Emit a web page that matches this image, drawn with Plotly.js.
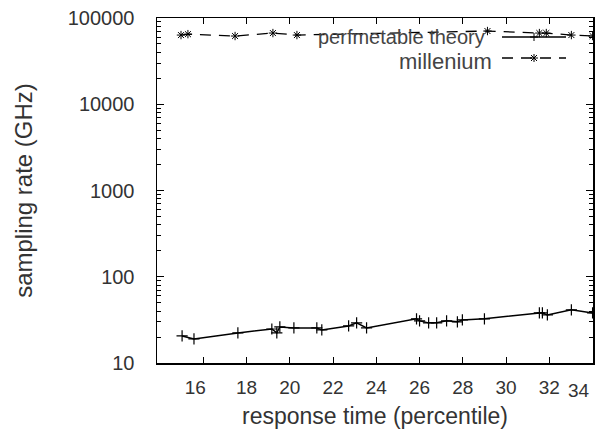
<!DOCTYPE html>
<html>
<head>
<meta charset="utf-8">
<script src="https://cdn.plot.ly/plotly-3.0.1.min.js"></script>
<style>html,body{margin:0;padding:0;background:#fff;}#chart{width:600px;height:435px;}</style>
</head>
<body>
<div id="chart"></div>
<script>
// Data
const theoryX = [15.02, 15.57, 17.6, 19.17, 19.4, 19.54, 20.19, 21.25, 21.48, 22.72, 23.09, 23.55, 25.86, 26.0, 26.42, 26.79, 27.25, 27.75, 27.98, 29.0, 31.54, 31.68, 31.91, 33.02, 34.0];
const theoryY = [20.6, 19.0, 22.3, 24.8, 22.3, 26.2, 25.5, 25.5, 24.2, 26.9, 29.2, 25.5, 32.5, 30.8, 29.2, 29.2, 30.8, 30.0, 31.6, 32.5, 38.1, 38.1, 36.1, 41.3, 38.1];
const milleniumX = [14.97, 15.29, 17.47, 19.22, 20.33, 29.14, 31.54, 31.86, 33.02, 34.0];
const milleniumY = [63400, 65000, 61800, 66900, 63400, 70600, 66900, 66900, 63400, 61800];
const xTicks = [16, 18, 20, 22, 24, 26, 28, 30, 32, 34];
const yTicks = [10, 100, 1000, 10000, 100000];
const seriesNames = ["perfmetable theory", "millenium"];

// plot area in pixels (for legend placement)
const L = 157, R = 593, T = 18, B = 363;
const px = x => (x - L) / (R - L);
const py = y => (B - y) / (B - T);

// the edge labels sit slightly left of their ticks in the reference
const NB = '\u00a0';
const lastTick = xTicks[xTicks.length - 1];
const xTickText = xTicks.map((v, i) => {
  if (i === 0) return String(v) + NB.repeat(3);
  if (i === xTicks.length - 1) return '';   // drawn as a right-aligned label below
  return String(v);
});

const traces = [
  {x: theoryX, y: theoryY, name: seriesNames[0], type: 'scatter', mode: 'lines+markers',
   line: {color: '#000', width: 1.5},
   marker: {symbol: 'cross-thin-open', size: 8, color: '#000', line: {color: '#000', width: 1.2}},
   showlegend: false, cliponaxis: true},
  {x: milleniumX, y: milleniumY, name: seriesNames[1], type: 'scatter', mode: 'lines+markers',
   line: {color: '#000', width: 1.3, dash: '11px,8px'},
   marker: {symbol: 'asterisk-open', size: 7, color: '#000', line: {color: '#000', width: 1}},
   showlegend: false, cliponaxis: true}
];

// legend drawn gnuplot-style: text right-aligned, sample on the right
const shapes = [];
const rows = [{y: 37, dash: 'solid', mk: 'plus'}, {y: 58, dash: '11px,8px', mk: 'star'}];
rows.forEach(r => {
  shapes.push({type: 'line', xref: 'paper', yref: 'paper', x0: px(502), x1: px(566), y0: py(r.y), y1: py(r.y),
    line: {color: '#000', width: 1.3, dash: r.dash}});
  const cx = 534, cy = r.y, s = 4;
  const segs = [[cx - s, cy, cx + s, cy], [cx, cy - s, cx, cy + s]];
  if (r.mk === 'star') { segs.push([cx - 3, cy - 3, cx + 3, cy + 3]); segs.push([cx - 3, cy + 3, cx + 3, cy - 3]); }
  segs.forEach(g => shapes.push({type: 'line', xref: 'paper', yref: 'paper',
    x0: px(g[0]), y0: py(g[1]), x1: px(g[2]), y1: py(g[3]), line: {color: '#000', width: 1}}));
});

const annotations = [
  {text: seriesNames[0], xref: 'paper', yref: 'paper', x: px(487), y: py(37), xanchor: 'right', yanchor: 'middle',
   showarrow: false, font: {family: 'Liberation Sans, Arial, sans-serif', size: 20, color: '#444'}},
  {text: seriesNames[1], xref: 'paper', yref: 'paper', x: px(494), y: py(61), xanchor: 'right', yanchor: 'middle',
   showarrow: false, font: {family: 'Liberation Sans, Arial, sans-serif', size: 22, color: '#444'}},
  {text: String(lastTick), xref: 'x', yref: 'paper', x: lastTick, y: 0, xanchor: 'right', yanchor: 'top',
   xshift: -1, yshift: -15, showarrow: false, font: {family: 'Liberation Sans, Arial, sans-serif', size: 19, color: '#333'}}
];

const layout = {
  width: 600, height: 435,
  margin: {l: L, r: 600 - R, t: T, b: 435 - B},
  paper_bgcolor: '#fff', plot_bgcolor: '#fff',
  font: {family: 'Liberation Sans, Arial, sans-serif', size: 20, color: '#333'},
  showlegend: false,
  xaxis: {
    range: [13.86, 34.02], tickvals: xTicks, ticktext: xTickText,
    ticks: 'inside', ticklen: 6, tickwidth: 1, tickcolor: '#000',
    showline: true, linecolor: '#000', linewidth: 1.5, mirror: 'ticks',
    showgrid: false, zeroline: false, ticklabelstandoff: 7,
    tickfont: {size: 19, color: '#333'},
    title: {text: 'response time (percentile)', font: {size: 23, color: '#333'}, standoff: 10}
  },
  yaxis: {
    type: 'log', range: [1, 5], tickvals: yTicks, ticktext: yTicks.map(String),
    ticks: 'inside', ticklen: 7, tickwidth: 1, tickcolor: '#000',
    minor: {ticks: 'inside', ticklen: 4, tickcolor: '#000', dtick: 'D1', showgrid: false},
    showline: true, linecolor: '#000', linewidth: 1.5, mirror: 'ticks',
    showgrid: false, zeroline: false, ticklabelstandoff: 17,
    tickfont: {size: 20, color: '#333'},
    title: {text: 'sampling rate (GHz)', font: {size: 24, color: '#333'}, standoff: 28}
  },
  shapes: shapes,
  annotations: annotations
};

Plotly.newPlot('chart', traces, layout, {displayModeBar: false, staticPlot: true});
</script>
</body>
</html>
